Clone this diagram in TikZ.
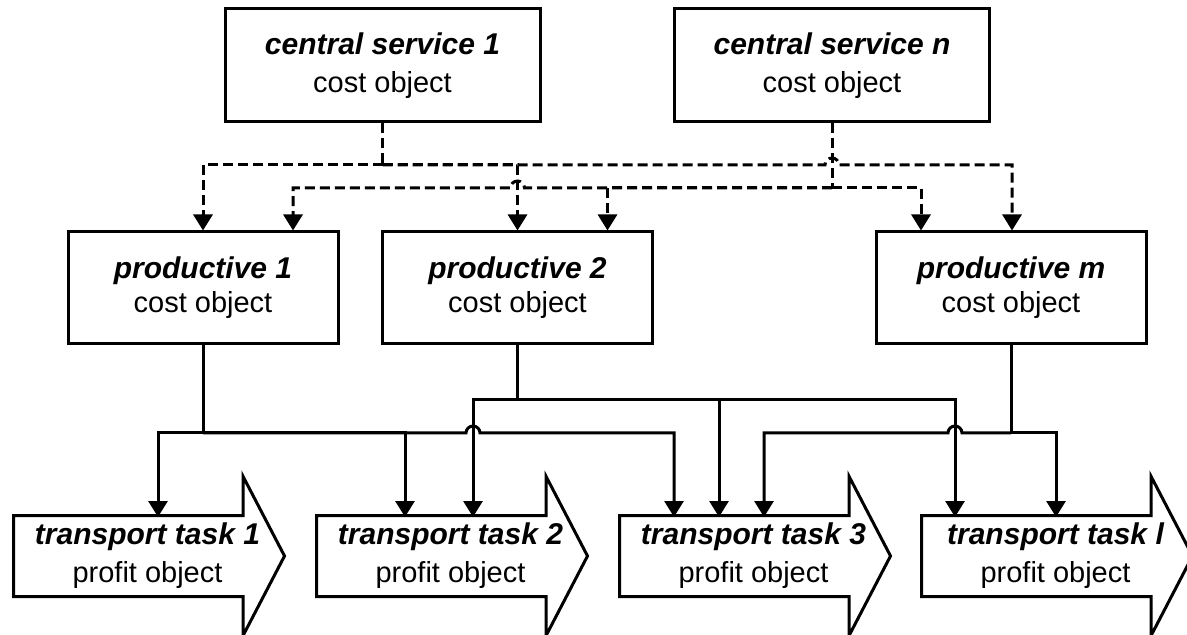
\documentclass[tikz,border=0pt]{standalone}
\usepackage{fontspec}
\setmainfont{Liberation Sans}
\usetikzlibrary{arrows.meta,calc,shapes.arrows}

\newcommand{\objname}[1]{{\fontsize{15}{19}\selectfont\bfseries\itshape #1}}

\tikzset{
    wire/.style={line width=1.5pt},
    dashwire/.style={line width=1.5pt,dash pattern=on 5pt off 2.5pt},
    tip/.style={-{Triangle[width=9.5pt,length=8pt]}},
}

\begin{document}
\begin{tikzpicture}[x=0.5pt,y=-0.5pt,
        every node/.style={font=\fontsize{14.5}{19}\selectfont},
        costbox/.style={draw,line width=1.5pt,minimum width=157.5pt,minimum height=56.5pt,align=center},
        prodbox/.style={draw,line width=1.5pt,minimum width=135pt,minimum height=56pt,align=center,
            font=\fontsize{14.5}{17}\selectfont},
        taskarrow/.style={draw,line width=1.5pt,single arrow,single arrow head extend=19.5pt,
            single arrow tip angle=125,minimum height=135.5pt,inner ysep=19.5pt,inner xsep=0pt,anchor=tail},
        tasktext/.style={align=center}]
    \useasboundingbox (0,0) rectangle (1187,635);

    %%% central services
    \node[costbox] (cs1) at (382.5,65.5) {\objname{central service 1}\\cost object};
    \node[costbox] (csn) at (832,65.5) {\objname{central service n}\\cost object};

    %%% productive cost objects
    \node[prodbox] (p1) at (203,288) {\objname{productive 1}\\cost object};
    \node[prodbox] (p2) at (517.5,288) {\objname{productive 2}\\cost object};
    \node[prodbox] (pm) at (1011,288) {\objname{productive m}\\cost object};

    %%% transport tasks
    \node[taskarrow] (t1) at (12,556) {};
    \node[taskarrow] (t2) at (315,556) {};
    \node[taskarrow] (t3) at (618,556) {};
    \node[taskarrow] (tl) at (920,556) {};
    \node[tasktext] (t1txt) at ([xshift=67.75pt]t1.tail) {\objname{transport task 1}\\profit object};
    \node[tasktext] (t2txt) at ([xshift=67.75pt]t2.tail) {\objname{transport task 2}\\profit object};
    \node[tasktext] (t3txt) at ([xshift=67.75pt]t3.tail) {\objname{transport task 3}\\profit object};
    \node[tasktext] (tltxt) at ([xshift=67.75pt]tl.tail) {\objname{transport task l}\\profit object};

    %%% allocation of the central services
    \coordinate (s1) at (cs1.south |- 0,165);
    \coordinate (sn) at (csn.south |- 0,188);
    \draw[dashwire] (cs1.south) -- (s1);
    \draw[dashwire,tip] (s1) -| (p1.north);
    \draw[dashwire,tip] (s1) -| (p2.north);
    \draw[dashwire,tip] (s1) -- ($(csn.south |- 0,165)+(-7,0)$)
        arc[start angle=180,end angle=0,radius=3.5pt] -| ([xshift=0.5pt]pm.north);
    \draw[dashwire] (csn.south) -- (sn);
    \draw[dashwire,tip] (sn) -- ($(p2.north |- 0,188)+(7,0)$)
        arc[start angle=0,end angle=180,radius=3.5pt] -| ([xshift=45pt]p1.north);
    \draw[dashwire,tip] (sn) -| ([xshift=45pt]p2.north);
    \draw[dashwire,tip] (sn) -| ([xshift=-45pt]pm.north);

    %%% productive 1
    \coordinate (q1) at (p1.south |- 0,433);
    \draw[wire] (p1.south) -- (q1);
    \draw[wire,tip] (q1) -| ([xshift=73pt,yshift=19.5pt]t1.tail);
    \draw[wire,tip] (q1) -| ([xshift=45pt,yshift=19.5pt]t2.tail);
    \draw[wire,tip] (q1) -- ($(t2.tail |- 0,433)+(151,0)$)
        arc[start angle=180,end angle=0,radius=3.5pt] -| ([xshift=28pt,yshift=19.5pt]t3.tail);

    %%% productive 2
    \coordinate (q2) at (p2.south |- 0,400);
    \draw[wire] (p2.south) -- (q2);
    \draw[wire,tip] (q2) -| ([xshift=79pt,yshift=19.5pt]t2.tail);
    \draw[wire,tip] (q2) -| ([xshift=50.5pt,yshift=19.5pt]t3.tail);
    \draw[wire,tip] (q2) -| ([xshift=17.5pt,yshift=19.5pt]tl.tail);

    %%% productive m
    \coordinate (qm) at (pm.south |- 0,433);
    \draw[wire] (pm.south) -- (qm);
    \draw[wire,tip] (qm) -- ($(tl.tail |- 0,433)+(42,0)$)
        arc[start angle=0,end angle=180,radius=3.5pt] -| ([xshift=73pt,yshift=19.5pt]t3.tail);
    \draw[wire,tip] (qm) -| ([xshift=68pt,yshift=19.5pt]tl.tail);
\end{tikzpicture}
\end{document}
